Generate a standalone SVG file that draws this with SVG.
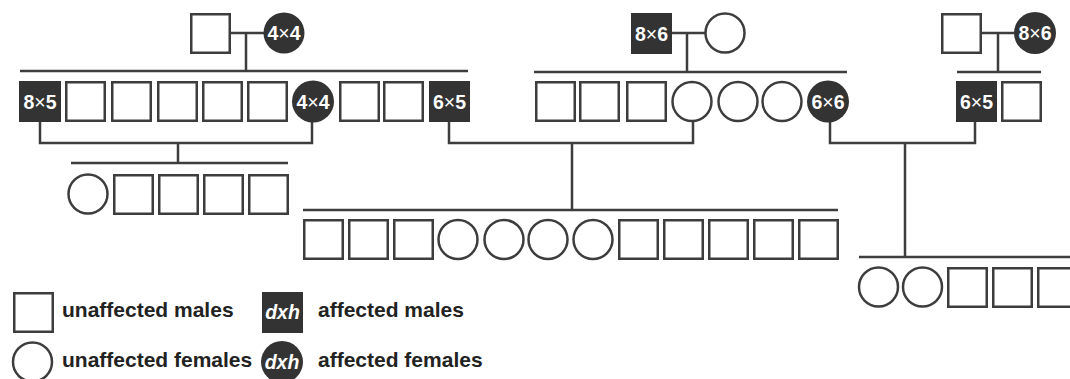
<svg xmlns="http://www.w3.org/2000/svg" width="1070" height="379" viewBox="0 0 1070 379">
<defs>
<style>
.m{fill:#fff;stroke:#3d3d3d;stroke-width:2.5}
.f{fill:#fff;stroke:#3d3d3d;stroke-width:2.5}
.am{fill:#333;stroke:none}
.af{fill:#333;stroke:none}
.n{fill:#fff;font-family:"Liberation Sans",Arial,sans-serif;font-weight:bold;font-size:19.5px;text-anchor:middle}
.x{font-weight:normal}
.d{fill:#fff;font-family:"Liberation Sans",Arial,sans-serif;font-weight:bold;font-style:italic;font-size:19.5px;text-anchor:middle}
.t{fill:#222;font-family:"Liberation Sans",Arial,sans-serif;font-weight:bold;font-size:21px}
.ln{fill:none;stroke:#3d3d3d;stroke-width:2.5}
</style>
</defs>
<rect width="1070" height="379" fill="#fff"/>
<g id="connectors" class="ln">
<path d="M230 33H264M246 33V71M20 71H468"/>
<path d="M672 33H705M687 33V72M534 72H847"/>
<path d="M981 33H1014M998 33V72M957 72H1041"/>
<path d="M40 122V143H312V122M178 143V163M71 163H288"/>
<path d="M449 122V143H693V122M572 143V210M303 210H838"/>
<path d="M830 122V143H975V122M905 143V257M859 257H1070"/>
</g>
<g id="gen1">
<g id="g1-father"><rect class="m" x="191.25" y="14.25" width="38.5" height="38.5"/></g>
<g id="g1-mother"><circle class="af" cx="284" cy="33" r="20.5"/><text class="n" x="284" y="40">4<tspan class="x">×</tspan>4</text></g>
<g id="g1m-father"><rect class="am" x="631" y="13" width="41" height="41"/><text class="n" x="651.5" y="40.5">8<tspan class="x">×</tspan>6</text></g>
<g id="g1m-mother"><circle class="f" cx="725" cy="33" r="19.5"/></g>
<g id="g1r-father"><rect class="m" x="942.25" y="14.25" width="38.5" height="38.5"/></g>
<g id="g1r-mother"><circle class="af" cx="1035" cy="33" r="21"/><text class="n" x="1035" y="40">8<tspan class="x">×</tspan>6</text></g>
</g>
<g id="gen2">
<g id="L1"><rect class="am" x="19" y="81" width="42" height="41"/><text class="n" x="40" y="108.5">8<tspan class="x">×</tspan>5</text></g>
<g id="L2"><rect class="m" x="66.25" y="82.25" width="38.5" height="38.5"/></g>
<g id="L3"><rect class="m" x="112.25" y="82.25" width="38.5" height="38.5"/></g>
<g id="L4"><rect class="m" x="158.25" y="82.25" width="38.5" height="38.5"/></g>
<g id="L5"><rect class="m" x="203.25" y="82.25" width="38.5" height="38.5"/></g>
<g id="L6"><rect class="m" x="248.25" y="82.25" width="38.5" height="38.5"/></g>
<g id="L7"><circle class="af" cx="313" cy="101.5" r="21"/><text class="n" x="313" y="108.5">4<tspan class="x">×</tspan>4</text></g>
<g id="L8"><rect class="m" x="340.25" y="82.25" width="38.5" height="38.5"/></g>
<g id="L9"><rect class="m" x="384.25" y="82.25" width="38.5" height="38.5"/></g>
<g id="L10"><rect class="am" x="429" y="81" width="41" height="41"/><text class="n" x="449.5" y="108.5">6<tspan class="x">×</tspan>5</text></g>
<g id="M1"><rect class="m" x="536.25" y="82.25" width="38.5" height="38.5"/></g>
<g id="M2"><rect class="m" x="580.25" y="82.25" width="38.5" height="38.5"/></g>
<g id="M3"><rect class="m" x="627.25" y="82.25" width="38.5" height="38.5"/></g>
<g id="M4"><circle class="f" cx="692" cy="101.5" r="19.5"/></g>
<g id="M5"><circle class="f" cx="738" cy="101.5" r="19.5"/></g>
<g id="M6"><circle class="f" cx="782" cy="101.5" r="19.5"/></g>
<g id="M7"><circle class="af" cx="828" cy="101.5" r="21"/><text class="n" x="828" y="108.5">6<tspan class="x">×</tspan>6</text></g>
<g id="R1"><rect class="am" x="956" y="81" width="41" height="41"/><text class="n" x="976.5" y="108.5">6<tspan class="x">×</tspan>5</text></g>
<g id="R2"><rect class="m" x="1002.25" y="82.25" width="38.5" height="38.5"/></g>
</g>
<g id="gen3-left">
<g id="C1"><circle class="f" cx="88" cy="194" r="19.5"/></g>
<g id="C2"><rect class="m" x="114.25" y="175.25" width="38.5" height="38.5"/></g>
<g id="C3"><rect class="m" x="159.25" y="175.25" width="38.5" height="38.5"/></g>
<g id="C4"><rect class="m" x="204.25" y="175.25" width="38.5" height="38.5"/></g>
<g id="C5"><rect class="m" x="249.25" y="175.25" width="38.5" height="38.5"/></g>
</g>
<g id="gen3-middle">
<g id="B1"><rect class="m" x="304.25" y="220.25" width="38.5" height="38.5"/></g>
<g id="B2"><rect class="m" x="349.25" y="220.25" width="38.5" height="38.5"/></g>
<g id="B3"><rect class="m" x="394.25" y="220.25" width="38.5" height="38.5"/></g>
<g id="B4"><circle class="f" cx="458" cy="239.5" r="19.5"/></g>
<g id="B5"><circle class="f" cx="504" cy="239.5" r="19.5"/></g>
<g id="B6"><circle class="f" cx="548" cy="239.5" r="19.5"/></g>
<g id="B7"><circle class="f" cx="593" cy="239.5" r="19.5"/></g>
<g id="B8"><rect class="m" x="619.25" y="220.25" width="38.5" height="38.5"/></g>
<g id="B9"><rect class="m" x="664.25" y="220.25" width="38.5" height="38.5"/></g>
<g id="B10"><rect class="m" x="709.25" y="220.25" width="38.5" height="38.5"/></g>
<g id="B11"><rect class="m" x="754.25" y="220.25" width="38.5" height="38.5"/></g>
<g id="B12"><rect class="m" x="799.25" y="220.25" width="38.5" height="38.5"/></g>
</g>
<g id="gen3-right">
<g id="D1"><circle class="f" cx="878.5" cy="287" r="19.5"/></g>
<g id="D2"><circle class="f" cx="922.5" cy="287" r="19.5"/></g>
<g id="D3"><rect class="m" x="948.25" y="268.25" width="38.5" height="38.5"/></g>
<g id="D4"><rect class="m" x="993.25" y="268.25" width="38.5" height="38.5"/></g>
<g id="D5"><rect class="m" x="1038.25" y="268.25" width="38.5" height="38.5"/></g>
</g>
<g id="legend">
<g id="leg-um"><rect class="m" x="14.25" y="293.25" width="38.5" height="38.5"/><text class="t" x="62" y="317">unaffected males</text></g>
<g id="leg-am"><rect class="am" x="262" y="292" width="41" height="41"/><text class="d" x="282.5" y="318.5">dxh</text><text class="t" x="318" y="317">affected males</text></g>
<g id="leg-uf"><circle class="f" cx="32.5" cy="362" r="19.5"/><text class="t" x="62" y="367">unaffected females</text></g>
<g id="leg-af"><circle class="af" cx="282" cy="362" r="21"/><text class="d" x="282" y="368.5">dxh</text><text class="t" x="318" y="367">affected females</text></g>
</g>
</svg>
